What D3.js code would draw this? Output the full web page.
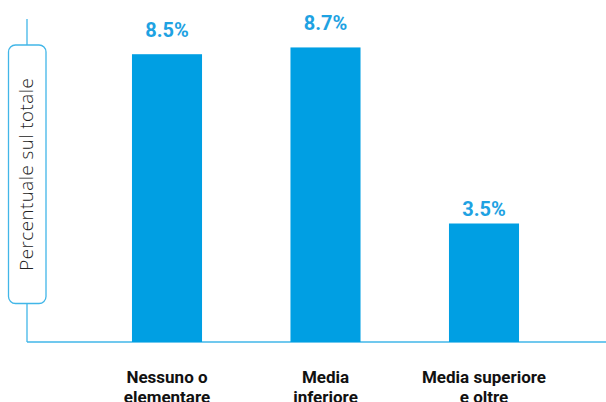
<!DOCTYPE html>
<html>
<head>
<meta charset="utf-8">
<script src="https://cdn.jsdelivr.net/npm/d3@7"></script>
<style>
  html, body { margin: 0; padding: 0; background: #fff; }
  svg { display: block; }
</style>
</head>
<body>
<svg id="chart" width="606" height="402"></svg>
<script>
const categories = [["Nessuno o", "elementare"], ["Media", "inferiore"], ["Media superiore", "e oltre"]];
const categoryKeys = ["Nessuno o elementare", "Media inferiore", "Media superiore e oltre"];
const values = [8.5, 8.7, 3.5];
const valueLabels = ["8.5%", "8.7%", "3.5%"];
const yTitle = "Percentuale sul totale";

const svg = d3.select("#chart");
const W = 606, H = 402;
const barColor = "#009fe3";
const axisColor = "#41b6e8";
const labelColor = "#1ea2e2";

const x = d3.scaleBand()
  .domain(categoryKeys)
  .range([87.75, 563.25])
  .paddingInner(0.558)
  .paddingOuter(0.279);

const y = d3.scaleLinear().domain([0, 9.54]).range([342, 19]);

const axisX = 27;

// vertical axis line
svg.append("line")
  .attr("x1", axisX).attr("x2", axisX)
  .attr("y1", y(9.54)).attr("y2", y(0))
  .attr("stroke", axisColor).attr("stroke-width", 1.3);

// horizontal baseline
svg.append("line")
  .attr("x1", axisX).attr("x2", W)
  .attr("y1", y(0)).attr("y2", y(0))
  .attr("stroke", axisColor).attr("stroke-width", 1.3);

// title box
const boxTop = 45, boxBottom = 303.5;
svg.append("rect")
  .attr("x", 8.5).attr("y", boxTop)
  .attr("width", 37.5).attr("height", boxBottom - boxTop)
  .attr("rx", 7).attr("ry", 7)
  .attr("fill", "#fff").attr("stroke", axisColor).attr("stroke-width", 1.3);

svg.append("text")
  .attr("transform", `translate(33.3,${(boxTop + boxBottom) / 2}) rotate(-90)`)
  .attr("text-anchor", "middle")
  .attr("font-family", "'Open Sans', sans-serif")
  .attr("font-weight", 300)
  .attr("font-size", 18.7)
  .attr("letter-spacing", 0.5)
  .attr("fill", "#222")
  .text(yTitle);

// bars
svg.selectAll("rect.bar")
  .data(values)
  .join("rect")
  .attr("class", "bar")
  .attr("x", (d, i) => x(categoryKeys[i]))
  .attr("width", x.bandwidth())
  .attr("y", d => y(d))
  .attr("height", d => y(0) - y(d))
  .attr("fill", barColor);

// value labels
svg.selectAll("text.val")
  .data(values)
  .join("text")
  .attr("class", "val")
  .attr("x", (d, i) => x(categoryKeys[i]) + x.bandwidth() / 2)
  .attr("y", d => y(d * 1.06))
  .attr("text-anchor", "middle")
  .attr("font-family", "Roboto, sans-serif")
  .attr("font-weight", 700)
  .attr("font-size", 20)
  .attr("fill", labelColor)
  .text((d, i) => valueLabels[i]);

// category labels
const cat = svg.selectAll("text.cat")
  .data(categories)
  .join("text")
  .attr("class", "cat")
  .attr("x", (d, i) => x(categoryKeys[i]) + x.bandwidth() / 2)
  .attr("y", 383.3)
  .attr("text-anchor", "middle")
  .attr("font-family", "Roboto, sans-serif")
  .attr("font-weight", 700)
  .attr("font-size", 17)
  .attr("fill", "#111");
cat.selectAll("tspan")
  .data(d => d)
  .join("tspan")
  .attr("x", function() { return d3.select(this.parentNode).attr("x"); })
  .attr("dy", (d, i) => i === 0 ? 0 : 20)
  .text(d => d);
</script>
</body>
</html>
